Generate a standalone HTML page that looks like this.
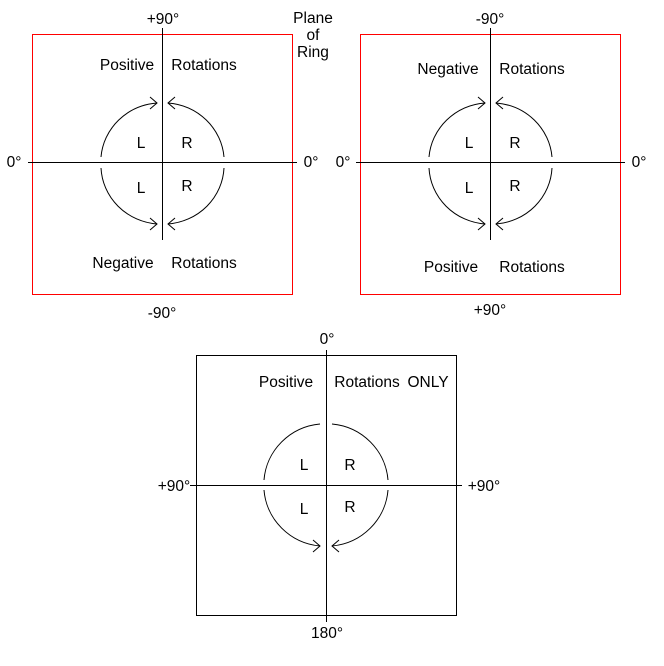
<!DOCTYPE html>
<html><head><style>
html,body{margin:0;padding:0;background:#fff;}
svg{display:block;}
text{font-family:"Liberation Sans",Arial,sans-serif;font-size:15.5px;fill:#000;}
</style></head><body>
<svg width="664" height="666" viewBox="0 0 664 666" xmlns="http://www.w3.org/2000/svg">
<g fill="none" stroke="#000" stroke-width="1">
<rect x="32.5" y="34.5" width="260" height="260" stroke="#f00"/>
<line x1="162.5" y1="28" x2="162.5" y2="240"/>
<line x1="28" y1="162.5" x2="297" y2="162.5"/>
<path d="M101,157 A61,59 0 0 1 157,103"/>
<path d="M224,157 A61,59 0 0 0 168,103"/>
<path d="M101,168 A61,59 0 0 0 157,224"/>
<path d="M224,168 A61,59 0 0 1 168,224"/>
<path d="M150,97 L157,103 L150,109 M175,97 L168,103 L175,109 M150,218 L157,224 L150,230 M175,218 L168,224 L175,230"/>
<rect x="360.5" y="34.5" width="260" height="260" stroke="#f00"/>
<line x1="490.5" y1="28" x2="490.5" y2="240"/>
<line x1="356" y1="162.5" x2="625" y2="162.5"/>
<path d="M429,157 A61,59 0 0 1 485,103"/>
<path d="M552,157 A61,59 0 0 0 496,103"/>
<path d="M429,168 A61,59 0 0 0 485,224"/>
<path d="M552,168 A61,59 0 0 1 496,224"/>
<path d="M478,97 L485,103 L478,109 M503,97 L496,103 L503,109 M478,218 L485,224 L478,230 M503,218 L496,224 L503,230"/>
<rect x="196.5" y="355.5" width="260" height="260"/>
<line x1="326.5" y1="350" x2="326.5" y2="622"/>
<line x1="190" y1="485.5" x2="462" y2="485.5"/>
<path d="M264,480 A62,61 0 0 1 320,424"/>
<path d="M388,480 A62,61 0 0 0 332,424"/>
<path d="M264,490 A62,61 0 0 0 320,546"/>
<path d="M388,490 A62,61 0 0 1 332,546"/>
<path d="M313,540 L320,546 L313,552 M339,540 L332,546 L339,552"/>
</g>
<g text-anchor="middle">
<text x="163" y="24">+90°</text>
<text x="162" y="318">-90°</text>
<text x="14" y="167">0°</text>
<text x="311" y="167">0°</text>
<text x="127" y="70">Positive</text>
<text x="204" y="70">Rotations</text>
<text x="123" y="268">Negative</text>
<text x="204" y="268">Rotations</text>
<text x="141" y="148">L</text><text x="187" y="148">R</text>
<text x="141" y="193">L</text><text x="187" y="191">R</text>
<text x="313" y="23">Plane</text>
<text x="313" y="40">of</text>
<text x="313" y="57">Ring</text>
<text x="490" y="24">-90°</text>
<text x="490" y="315">+90°</text>
<text x="343" y="167">0°</text>
<text x="639" y="167">0°</text>
<text x="448" y="74">Negative</text>
<text x="532" y="74">Rotations</text>
<text x="451" y="272">Positive</text>
<text x="532" y="272">Rotations</text>
<text x="469" y="148">L</text><text x="515" y="148">R</text>
<text x="469" y="193">L</text><text x="515" y="191">R</text>
<text x="327" y="344">0°</text>
<text x="327" y="638">180°</text>
<text x="174" y="491">+90°</text>
<text x="484" y="491">+90°</text>
<text x="286" y="387">Positive</text>
<text x="367" y="387">Rotations</text>
<text x="428" y="387">ONLY</text>
<text x="304" y="470">L</text><text x="350" y="470">R</text>
<text x="304" y="514">L</text><text x="350" y="512">R</text>
</g>
</svg>
</body></html>
